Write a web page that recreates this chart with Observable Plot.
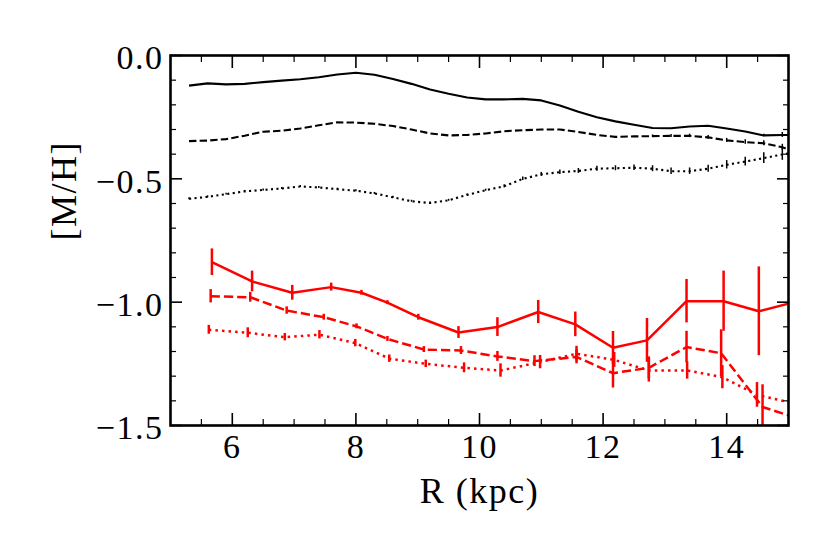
<!DOCTYPE html>
<html><head><meta charset="utf-8">
<script src="https://cdn.jsdelivr.net/npm/d3@7"></script>
<script src="https://cdn.jsdelivr.net/npm/@observablehq/plot@0.6"></script>
<style>
body{margin:0;background:#fff;}
#chart svg{font-family:"Liberation Serif",serif;}
#chart svg text{letter-spacing:1.5px;}
</style></head><body><div id="chart"></div>
<script>
// ---- Black (model) curves ----
const blackR = [5.3,5.6,5.9,6.2,6.5,6.8,7.1,7.4,7.7,8.0,8.3,8.6,8.9,9.2,9.5,9.8,10.1,10.4,10.7,11.0,11.3,11.6,11.9,12.2,12.5,12.8,13.1,13.4,13.7,14.0,14.3,14.6,14.9,15.2];
const blackSolid = [-0.122,-0.113,-0.117,-0.115,-0.108,-0.102,-0.096,-0.088,-0.077,-0.070,-0.078,-0.095,-0.115,-0.138,-0.155,-0.170,-0.178,-0.178,-0.176,-0.182,-0.203,-0.228,-0.250,-0.267,-0.281,-0.294,-0.295,-0.288,-0.285,-0.296,-0.308,-0.324,-0.322,-0.322];
const blackSolidErr = [0,0,0,0,0,0,0,0,0,0,0,0,0,0,0,0,0,0,0,0,0,0,0,0,0,0,0,0,0,0,0,0.005,0.010,0.010];
const blackDashed = [-0.347,-0.345,-0.339,-0.325,-0.309,-0.305,-0.296,-0.283,-0.271,-0.272,-0.277,-0.286,-0.300,-0.316,-0.324,-0.322,-0.316,-0.307,-0.303,-0.300,-0.300,-0.310,-0.322,-0.330,-0.328,-0.327,-0.326,-0.326,-0.332,-0.344,-0.351,-0.356,-0.372,-0.400];
const blackDashedErr = [0,0,0,0,0,0,0,0,0,0,0,0,0,0,0,0,0,0,0,0,0,0,0,0,0,0.005,0.006,0.007,0.008,0.008,0.009,0.010,0.012,0.012];
const blackDotted = [-0.581,-0.573,-0.562,-0.551,-0.545,-0.539,-0.531,-0.535,-0.542,-0.548,-0.559,-0.575,-0.591,-0.598,-0.587,-0.565,-0.546,-0.530,-0.500,-0.482,-0.473,-0.468,-0.459,-0.457,-0.455,-0.459,-0.469,-0.469,-0.459,-0.443,-0.430,-0.416,-0.401,-0.390];
const blackDottedErr = [0.004,0.004,0.004,0.004,0.004,0.004,0.004,0.004,0.004,0.004,0.004,0.004,0.004,0.004,0.004,0.004,0.004,0.006,0.007,0.008,0.009,0.010,0.010,0.010,0.011,0.012,0.013,0.013,0.014,0.017,0.018,0.022,0.024,0.025];

// ---- Red (observed) binned profiles ----
const redSolidR = [5.67,6.32,6.97,7.60,8.09,8.51,9.01,9.66,10.29,10.95,11.55,12.16,12.71,13.35,13.95,14.52,15.12];
const redSolid = [-0.838,-0.916,-0.962,-0.939,-0.962,-1.002,-1.061,-1.123,-1.101,-1.040,-1.090,-1.185,-1.155,-0.996,-0.996,-1.037,-0.998];
const redSolidErr = [0.054,0.042,0.030,0.016,0.010,0.008,0.012,0.024,0.038,0.047,0.050,0.066,0.089,0.088,0.122,0.180,0.200];
const redDashedR = [5.65,6.29,6.88,7.48,8.01,8.51,9.10,9.70,10.29,10.89,11.57,12.16,12.74,13.35,13.91,14.58,15.18];
const redDashed = [-0.976,-0.980,-1.034,-1.061,-1.098,-1.149,-1.192,-1.196,-1.220,-1.239,-1.222,-1.288,-1.266,-1.182,-1.207,-1.425,-1.474];
const redDashedErr = [0.027,0.020,0.015,0.012,0.010,0.010,0.012,0.016,0.020,0.022,0.028,0.060,0.044,0.064,0.095,0.090,0.100];
const redDottedR = [5.62,6.25,6.85,7.41,7.99,8.54,9.13,9.75,10.34,10.98,11.57,12.18,12.74,13.36,13.93,14.49,15.10];
const redDotted = [-1.112,-1.124,-1.142,-1.132,-1.166,-1.229,-1.250,-1.266,-1.277,-1.243,-1.209,-1.234,-1.277,-1.277,-1.304,-1.376,-1.411];
const redDottedErr = [0.018,0.020,0.015,0.017,0.015,0.015,0.015,0.020,0.027,0.027,0.030,0.030,0.047,0.035,0.047,0.050,0.060];

// ---- Axis ticks and labels ----
const xMajor = [6,8,10,12,14];
const xMinor = [5.5,6.5,7,7.5,8.5,9,9.5,10.5,11,11.5,12.5,13,13.5,14.5];
const yMajor = [0,-0.5,-1.0,-1.5];
const yMinor = [-0.1,-0.2,-0.3,-0.4,-0.6,-0.7,-0.8,-0.9,-1.1,-1.2,-1.3,-1.4];
const xLabel = "R (kpc)";
const yLabel = "[M/H]";

const rows = (xs, ys, es) => xs.map((x, i) => ({x, y: ys[i], e: es[i]}));

const series = [
  {d: rows(blackR, blackSolid, blackSolidErr), stroke: "black", w: 2.1, dash: null, ew: 1.5},
  {d: rows(blackR, blackDashed, blackDashedErr), stroke: "black", w: 2.1, dash: "7.4,3.2", ew: 1.5},
  {d: rows(blackR, blackDotted, blackDottedErr), stroke: "black", w: 2.1, dash: "2.1,3.4", ew: 1.5},
  {d: rows(redSolidR, redSolid, redSolidErr), stroke: "#ff0000", w: 2.5, dash: null, ew: 2.5},
  {d: rows(redDashedR, redDashed, redDashedErr), stroke: "#ff0000", w: 2.5, dash: "9.25,4", ew: 2.5},
  {d: rows(redDottedR, redDotted, redDottedErr), stroke: "#ff0000", w: 2.5, dash: "2.5,4.1", ew: 2.5}
];

const marks = [];
for (const s of series) {
  marks.push(Plot.ruleX(s.d.filter(r => r.e > 0), {x: "x", y1: r => r.y - r.e, y2: r => r.y + r.e, stroke: s.stroke, strokeWidth: s.ew, clip: true}));
  marks.push(Plot.line(s.d, {x: "x", y: "y", stroke: s.stroke, strokeWidth: s.w, strokeDasharray: s.dash, strokeLinecap: "butt", strokeLinejoin: "round", curve: "linear", clip: true}));
}

const chart = Plot.plot({
  width: 830, height: 554,
  marginLeft: 170, marginRight: 42, marginTop: 55, marginBottom: 129,
  style: {fontFamily: "Liberation Serif", background: "white", color: "black", overflow: "visible"},
  x: {domain: [5, 15]},
  y: {domain: [-1.5, 0]},
  marks: [
    ...marks,
    // major/minor inward ticks on all sides
    Plot.axisX(xMajor, {anchor: "bottom", tickSize: -12, strokeWidth: 1.6, text: null, label: null}),
    Plot.axisX(xMajor, {anchor: "top", tickSize: -12, strokeWidth: 1.6, text: null, label: null}),
    Plot.axisX(xMinor, {anchor: "bottom", tickSize: -6, strokeWidth: 1.2, text: null, label: null}),
    Plot.axisX(xMinor, {anchor: "top", tickSize: -6, strokeWidth: 1.2, text: null, label: null}),
    Plot.axisY(yMajor, {anchor: "left", tickSize: -12, strokeWidth: 1.6, text: null, label: null}),
    Plot.axisY(yMajor, {anchor: "right", tickSize: -12, strokeWidth: 1.6, text: null, label: null}),
    Plot.axisY(yMinor, {anchor: "left", tickSize: -6, strokeWidth: 1.2, text: null, label: null}),
    Plot.axisY(yMinor, {anchor: "right", tickSize: -6, strokeWidth: 1.2, text: null, label: null}),
    // tick labels
    Plot.axisX(xMajor, {anchor: "bottom", tickSize: 0, tickPadding: 8, fontSize: 34, tickFormat: d => String(d), label: null}),
    Plot.axisY(yMajor, {anchor: "left", tickSize: 0, tickPadding: 7, dy: 3, fontSize: 34, tickFormat: d3.format(".1f"), label: null}),
    // axis titles
    Plot.text([xLabel], {text: d => d, frameAnchor: "bottom", dy: 77, lineAnchor: "bottom", fontSize: 36}),
    Plot.text([yLabel], {text: d => d, frameAnchor: "left", dx: -95, rotate: -90, lineAnchor: "bottom", fontSize: 36}),
    Plot.frame({stroke: "black", strokeWidth: 2.6})
  ]
});
document.getElementById("chart").appendChild(chart);
</script></body></html>
